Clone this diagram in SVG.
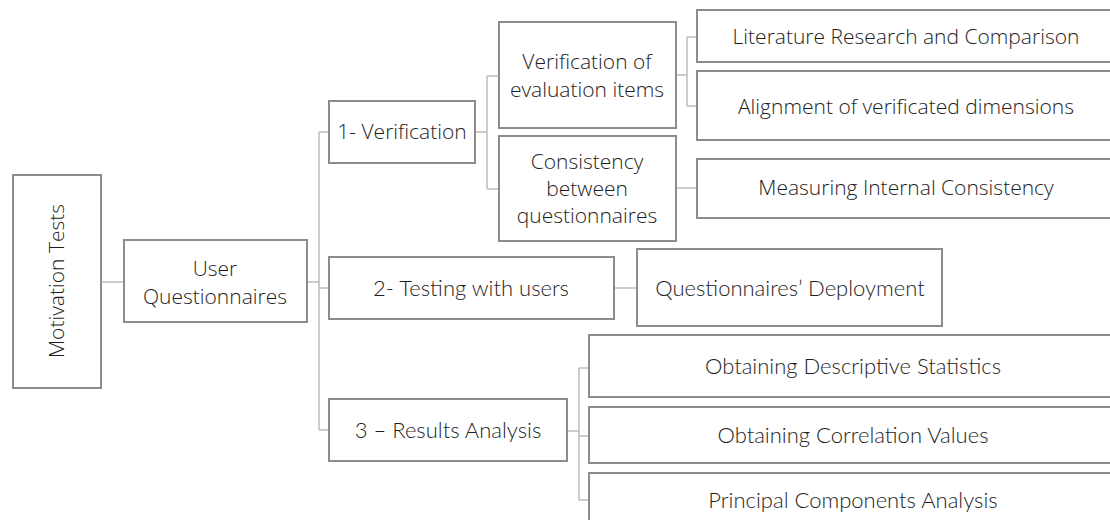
<svg xmlns="http://www.w3.org/2000/svg" width="1110" height="520" viewBox="0 0 1110 520">
<style>
.box{fill:#fff;stroke:#8c8c8c;stroke-width:2}
.con{fill:none;stroke:#bdbdbd;stroke-width:1.5}
.t{font-family:"Open Sans","Noto Sans",sans-serif;font-size:21px;font-weight:300;fill:#1e1e1e;text-anchor:middle}
.c{font-family:Lato,"Open Sans",sans-serif;font-size:22px;font-weight:300;fill:#1e1e1e;text-anchor:middle}
</style>
<rect width="1110" height="520" fill="#fff"/>
<g id="connectors">
<path class="con" d="M101 282H124"/>
<path class="con" d="M307 282H319M319 132V430M319 132H329M319 288H329M319 430H329"/>
<path class="con" d="M475 132H487M487 76V189M487 76H499M487 189H499"/>
<path class="con" d="M676 75H687M687 37V106M687 37H697M687 106H697"/>
<path class="con" d="M676 188H697"/>
<path class="con" d="M614 288H637"/>
<path class="con" d="M567 431H579M579 368V500M579 368H589M579 436H589M579 500H589"/>
</g>
<g id="n-motivation"><rect class="box" x="13" y="175" width="88" height="213"/><text class="t" transform="translate(64 281) rotate(-90)">Motivation Tests</text></g>
<g id="n-user"><rect class="box" x="124" y="240" width="183" height="82"/><text class="t" x="215" y="276">User</text><text class="t" x="215" y="304">Questionnaires</text></g>
<g id="n-verif"><rect class="box" x="329" y="101" width="146" height="62"/><text class="t" x="402" y="139">1- Verification</text></g>
<g id="n-evalitems"><rect class="box" x="499" y="22" width="177" height="106"/><text class="t" x="587" y="69">Verification of</text><text class="t" x="587" y="97">evaluation items</text></g>
<g id="n-consist"><rect class="box" x="499" y="136" width="177" height="105"/><text class="t" x="587" y="169">Consistency</text><text class="t" x="587" y="196">between</text><text class="t" x="587" y="223">questionnaires</text></g>
<g id="n-lit"><rect class="box" x="697" y="10" width="418" height="52"/><text class="t" x="906" y="44">Literature Research and Comparison</text></g>
<g id="n-align"><rect class="box" x="697" y="71" width="418" height="69"/><text class="t" x="906" y="114">Alignment of verificated dimensions</text></g>
<g id="n-measure"><rect class="box" x="697" y="159" width="418" height="59"/><text class="t" x="906" y="195">Measuring Internal Consistency</text></g>
<g id="n-testing"><rect class="box" x="329" y="257" width="285" height="62"/><text class="c" x="471" y="296">2- Testing with users</text></g>
<g id="n-deploy"><rect class="box" x="637" y="249" width="305" height="77"/><text class="c" x="790" y="296">Questionnaires’ Deployment</text></g>
<g id="n-results"><rect class="box" x="329" y="399" width="238" height="62"/><text class="c" x="448" y="438">3 – Results Analysis</text></g>
<g id="n-desc"><rect class="box" x="589" y="335" width="528" height="62"/><text class="c" x="853" y="374">Obtaining Descriptive Statistics</text></g>
<g id="n-corr"><rect class="box" x="589" y="407" width="528" height="56"/><text class="c" x="853" y="443">Obtaining Correlation Values</text></g>
<g id="n-pca"><rect class="box" x="589" y="473" width="528" height="60"/><text class="c" x="853" y="508">Principal Components Analysis</text></g>
</svg>
